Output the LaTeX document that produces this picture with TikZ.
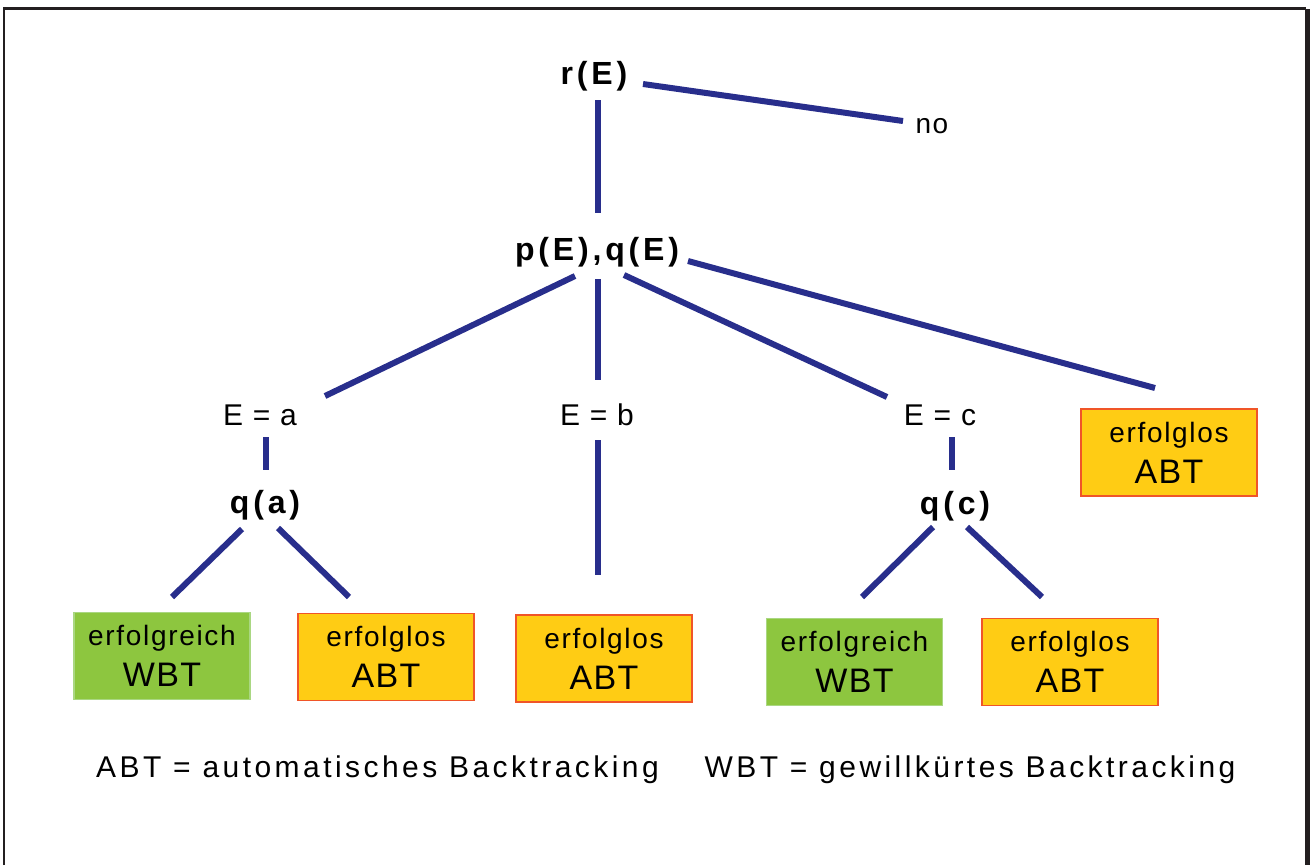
\documentclass[tikz,border=0pt]{standalone}
\usepackage{fontspec}
\setmainfont{Liberation Sans}
\newfontfamily\lsA{Liberation Sans}[LetterSpace=6]
\newfontfamily\lsW{Liberation Sans}[LetterSpace=4]
\newfontfamily\lsE{Liberation Sans}[LetterSpace=5]
\newfontfamily\lsB{Liberation Sans}[LetterSpace=12]
\newfontfamily\lsL{Liberation Sans}[LetterSpace=11.5]
\usetikzlibrary{calc}
\definecolor{navy}{RGB}{40,46,140}
\definecolor{frame}{RGB}{35,31,32}
\definecolor{gfill}{RGB}{141,198,63}
\definecolor{gline}{RGB}{170,215,130}
\definecolor{ofill}{RGB}{255,204,20}
\definecolor{oline}{RGB}{240,85,40}
\tikzset{
  con/.style={draw=navy, line width=4.5pt},
  blab/.style={font={\lsB\bfseries\fontsize{24}{28}\selectfont}, inner sep=0pt},
  elab/.style={font={\lsE\fontsize{22.5}{26}\selectfont}, inner sep=0pt},
  nolab/.style={font={\lsE\fontsize{21}{25}\selectfont}, inner sep=0pt},
  leg/.style={font={\lsL\fontsize{22.5}{26}\selectfont}, inner sep=0pt},
  box/.style={minimum width=132pt, minimum height=65pt, inner sep=0pt, align=center, line width=1.1pt,
              font={\lsA\fontsize{21}{30.75}\selectfont}},
  gbox/.style={box, fill=gfill, draw=gline},
  obox/.style={box, fill=ofill, draw=oline}
}
\newcommand\bigline[1]{{\lsW\fontsize{25.5}{30.75}\selectfont #1}}
\begin{document}
\begin{tikzpicture}[x=0.75pt,y=-0.75pt]
\useasboundingbox (0,0) rectangle (1312,865);
\fill[white] (0,0) rectangle (1312,865);
% frame
\draw[frame, line width=1.9pt] (4,865) -- (4,8.5) -- (1306,8.5);
\fill[frame] (1305,9) rectangle (1310,865);

% nodes
\node[blab] (r) at (594,76) {r(E)};
\node[nolab] (no) at (932,126) {no};
\node[blab] (pq) at (597,252) {p(E),q(E)};
\node[elab] (ea) at (260,415) {E = a};
\node[elab] (eb) at (597,415) {E = b};
\node[elab] (ec) at (940,415) {E = c};
\node[blab] (qa) at (265,505) {q(a)};
\node[blab] (qc) at (955,506) {q(c)};
\node[obox] (o4) at (1169,452.5) {erfolglos\\\bigline{ABT}};
\node[gbox] (g1) at (162,656) {erfolgreich\\\bigline{WBT}};
\node[obox] (o1) at (386,657) {erfolglos\\\bigline{ABT}};
\node[obox] (o2) at (604,658.5) {erfolglos\\\bigline{ABT}};
\node[gbox] (g2) at (854.5,662) {erfolgreich\\\bigline{WBT}};
\node[obox] (o3) at (1070,662) {erfolglos\\\bigline{ABT}};
\node[leg] (l1) at (377.5,770) {ABT = automatisches Backtracking};
\node[leg] (l2) at (970,770) {WBT = gewillkürtes Backtracking};

% connectors
\draw[con] ($(r)+(49,8)$) -- ($(no)+(-29,-5)$);
\draw[con] ($(r)+(4,24)$) -- ($(pq)+(1,-39)$);
\draw[con] ($(pq)+(-22,24)$) -- ($(ea)+(65,-19)$);
\draw[con] ($(pq)+(1,27)$) -- ($(eb)+(1,-35)$);
\draw[con] ($(pq)+(27,23)$) -- ($(ec)+(-53,-18)$);
\draw[con] ($(pq)+(91,9)$) -- ($(o4)+(-14,-64.5)$);
\draw[con] ($(ea)+(6,22)$) -- ($(qa)+(1,-35)$);
\draw[con] ($(qa)+(-23,24)$) -- ($(g1)+(10,-59)$);
\draw[con] ($(qa)+(13,23)$) -- ($(o1)+(-37,-60)$);
\draw[con] ($(eb)+(1,25)$) -- ($(o2)+(-6,-83.5)$);
\draw[con] ($(ec)+(12,22)$) -- ($(qc)+(-3,-36)$);
\draw[con] ($(qc)+(-22,21)$) -- ($(g2)+(7.5,-65)$);
\draw[con] ($(qc)+(12,21)$) -- ($(o3)+(-28,-65)$);
\end{tikzpicture}
\end{document}
